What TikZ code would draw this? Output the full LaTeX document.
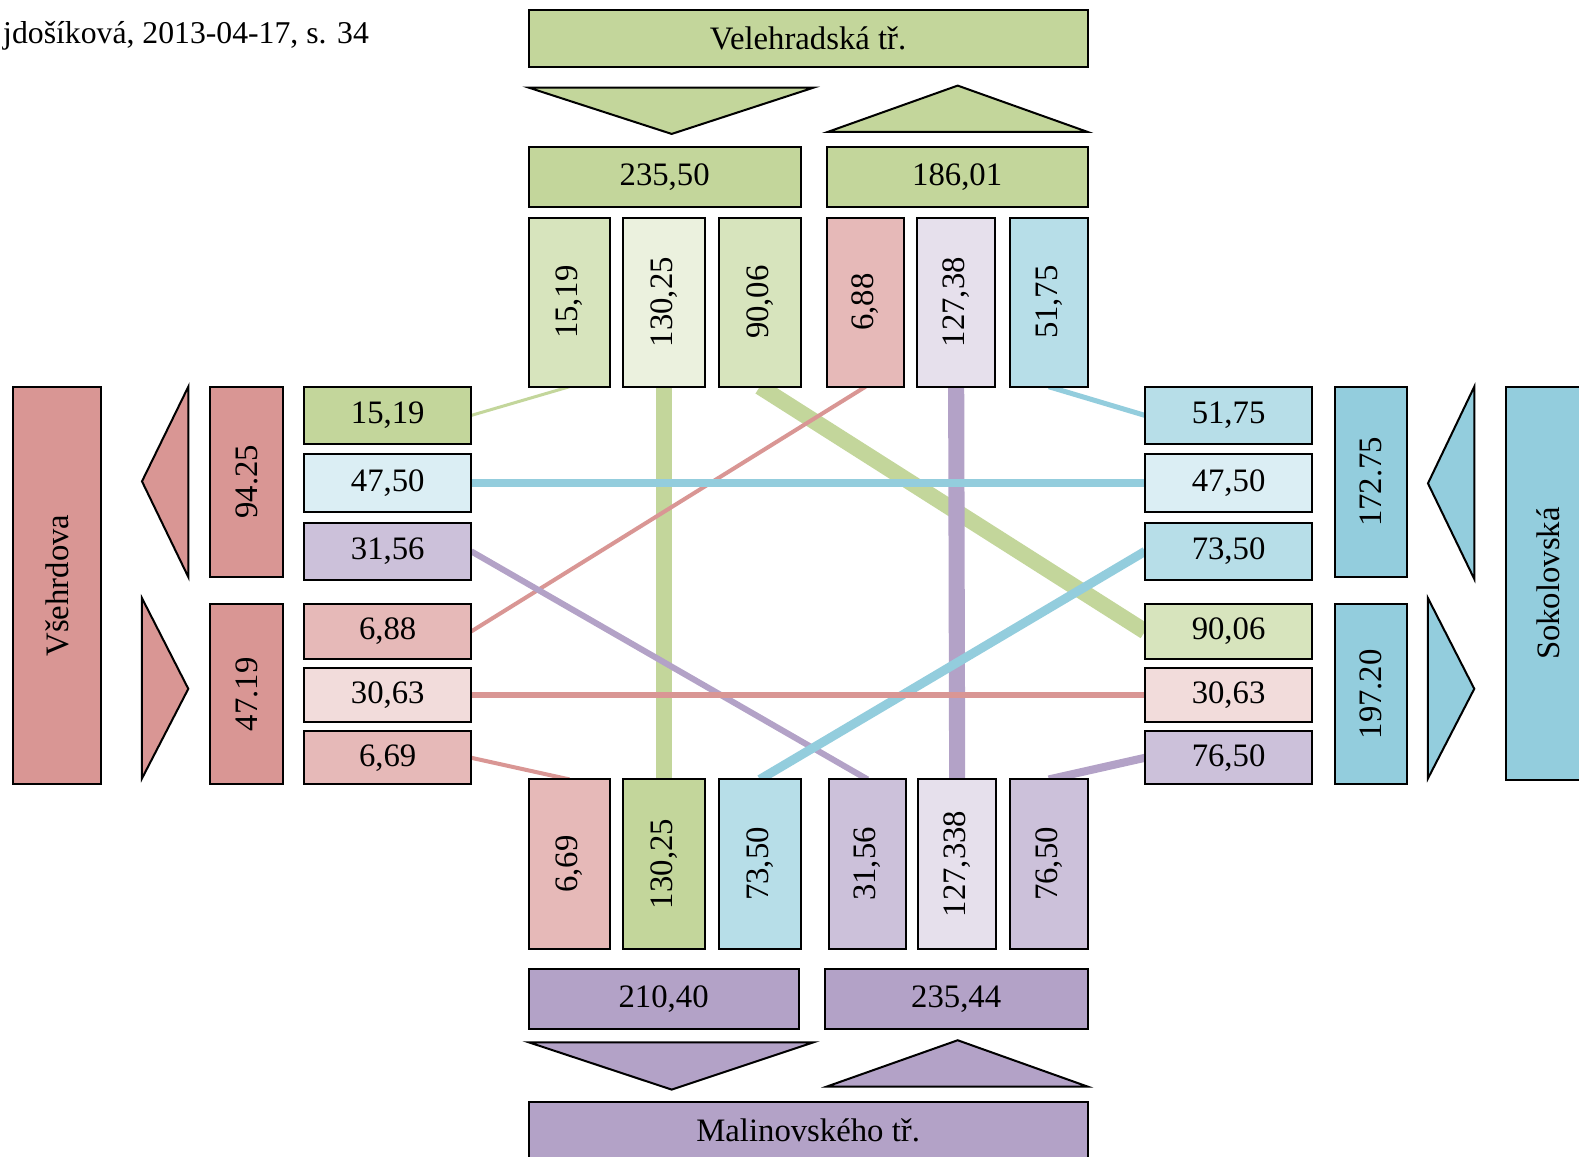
\documentclass[tikz,border=0pt]{standalone}
\usepackage{fontspec}
\setmainfont{Liberation Serif}
\usepackage{graphicx}
\pgfdeclarelayer{bg}
\pgfsetlayers{bg,main}

% palette
\definecolor{grnD}{HTML}{C3D69B}
\definecolor{grnM}{HTML}{D7E4BD}
\definecolor{grnL}{HTML}{EBF1DE}
\definecolor{redD}{HTML}{D99694}
\definecolor{redM}{HTML}{E6B9B8}
\definecolor{redL}{HTML}{F2DCDB}
\definecolor{vioD}{HTML}{B3A2C7}
\definecolor{vioM}{HTML}{CCC1DA}
\definecolor{vioL}{HTML}{E6E0EC}
\definecolor{bluD}{HTML}{93CDDD}
\definecolor{bluM}{HTML}{B7DEE8}
\definecolor{bluL}{HTML}{DBEEF4}

\tikzset{
  cell/.style={draw=black, line width=2pt, inner sep=0pt, outer sep=0pt,
    font=\fontsize{32.5}{38}\selectfont},
  tri/.style={draw=black, line width=2pt, line join=miter},
  link/.style={line cap=butt},
}

% \cellbox{name}{x1}{y1}{x2}{y2}{fill}{text}
\newcommand\cellbox[7]{%
  \node[cell, fill=#6, minimum width={#4-#2}, minimum height={#5-#3}]
    (#1) at ({(#2+#4)/2},{(#3+#5)/2}) {#7};}
\newcommand\up[1]{\rotatebox{90}{#1}}

\begin{document}
\begin{tikzpicture}[x=1pt, y=-1pt]
\useasboundingbox (0,0) rectangle (1568,1148);

% source note
\node[inner sep=0pt, anchor=base west, font=\fontsize{31.5}{37}\selectfont]
  (note) at (3,43) {jdošíková, 2013-04-17, s. 34};

% ---- north approach: Velehradská tř.
\cellbox{north}{525}{10}{1080}{67}{grnD}{Velehradská tř.}
\draw[tri, fill=grnD] (525,87) -- (808,87) -- (667,133) -- cycle;
\draw[tri, fill=grnD] (822,131) -- (1080,131) -- (951,85) -- cycle;
\cellbox{nin}{525}{146}{795}{206}{grnD}{235,50}
\cellbox{nout}{821}{146}{1080}{206}{grnD}{186,01}
\cellbox{t1}{525}{216}{606}{384}{grnM}{\up{15,19}}
\cellbox{t2}{619}{216}{700}{384}{grnL}{\up{130,25}}
\cellbox{t3}{714}{216}{795}{384}{grnM}{\up{90,06}}
\cellbox{t4}{821}{216}{898}{384}{redM}{\up{6,88}}
\cellbox{t5}{911}{216}{988}{384}{vioL}{\up{127,38}}
\cellbox{t6}{1003}{216}{1080}{384}{bluM}{\up{51,75}}

% ---- west approach: Všehrdova
\cellbox{west}{13}{384}{100}{779}{redD}{\up{Všehrdova}}
\draw[tri, fill=redD] (187,384) -- (187,573) -- (141,478) -- cycle;
\draw[tri, fill=redD] (141,594) -- (141,773) -- (187,684) -- cycle;
\cellbox{wout}{209}{384}{281}{573}{redD}{\up{94.25}}
\cellbox{win}{209}{600}{281}{779}{redD}{\up{47.19}}
\cellbox{l1}{302}{384}{468}{441}{grnD}{15,19}
\cellbox{l2}{302}{451}{468}{508}{bluL}{47,50}
\cellbox{l3}{302}{519}{468}{576}{vioM}{31,56}
\cellbox{l4}{302}{600}{468}{654}{redM}{6,88}
\cellbox{l5}{302}{663}{468}{717}{redL}{30,63}
\cellbox{l6}{302}{726}{468}{779}{redM}{6,69}

% ---- east approach: Sokolovská
\cellbox{r1}{1137}{384}{1303}{441}{bluM}{51,75}
\cellbox{r2}{1137}{451}{1303}{508}{bluL}{47,50}
\cellbox{r3}{1137}{519}{1303}{576}{bluM}{73,50}
\cellbox{r4}{1137}{600}{1303}{654}{grnM}{90,06}
\cellbox{r5}{1137}{663}{1303}{717}{redL}{30,63}
\cellbox{r6}{1137}{726}{1303}{779}{vioM}{76,50}
\cellbox{ein}{1326}{384}{1397}{573}{bluD}{\up{172.75}}
\cellbox{eout}{1326}{600}{1397}{779}{bluD}{\up{197.20}}
\draw[tri, fill=bluD] (1464,384) -- (1464,575) -- (1418,480) -- cycle;
\draw[tri, fill=bluD] (1418,594) -- (1418,773) -- (1464,684) -- cycle;
\cellbox{east}{1495}{384}{1580}{775}{bluD}{\up{Sokolovská}}

% ---- south approach: Malinovského tř.
\cellbox{b1}{525}{774}{606}{942}{redM}{\up{6,69}}
\cellbox{b2}{619}{774}{700}{942}{grnD}{\up{130,25}}
\cellbox{b3}{714}{774}{795}{942}{bluM}{\up{73,50}}
\cellbox{b4}{823}{774}{900}{942}{vioM}{\up{31,56}}
\cellbox{b5}{912}{774}{989}{942}{vioL}{\up{127,338}}
\cellbox{b6}{1003}{774}{1080}{942}{vioM}{\up{76,50}}
\cellbox{sin}{525}{962}{793}{1022}{vioD}{210,40}
\cellbox{sout}{819}{962}{1080}{1022}{vioD}{235,44}
\draw[tri, fill=vioD] (525,1035) -- (808,1035) -- (667,1082) -- cycle;
\draw[tri, fill=vioD] (821,1079) -- (1080,1079) -- (951,1033) -- cycle;
\cellbox{south}{525}{1094}{1080}{1151}{vioD}{Malinovského tř.}

% ---- turning flows across the junction
\begin{pgfonlayer}{bg}
\draw[link, grnD, line width=3]  (t1.south) -- (l1.east);
\draw[link, grnD, line width=16] (t2.south) -- (b2.north);
\draw[link, grnD, line width=16] (t3.south) -- (r4.west);
\draw[link, redD, line width=4]  (t4.south) -- (l4.east);
\draw[link, vioD, line width=16] (t5.south) -- (b5.north);
\draw[link, bluD, line width=5]  (t6.south) -- (r1.west);
\draw[link, bluD, line width=8]  (l2.east) -- (r2.west);
\draw[link, vioD, line width=6]  (l3.east) -- (b4.north);
\draw[link, bluD, line width=9]  (r3.west) -- (b3.north);
\draw[link, redD, line width=6]  (l5.east) -- (r5.west);
\draw[link, redD, line width=4]  (l6.east) -- (b1.north);
\draw[link, vioD, line width=8]  (r6.west) -- (b6.north);
\end{pgfonlayer}
\end{tikzpicture}
\end{document}
